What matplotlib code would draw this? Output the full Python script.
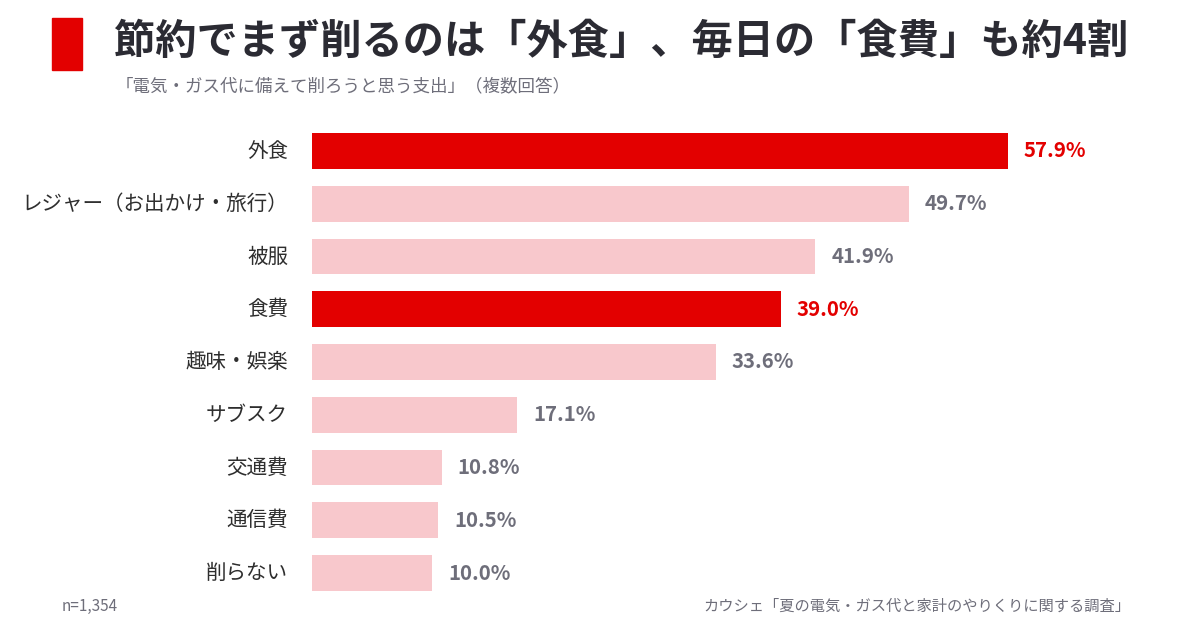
import matplotlib
matplotlib.use("Agg")
import matplotlib.pyplot as plt
from matplotlib.patches import Rectangle

plt.rcParams['font.family'] = ['Noto Sans CJK JP', 'DejaVu Sans']

# data
categories = ['外食', 'レジャー（お出かけ・旅行）', '被服', '食費', '趣味・娯楽',
              'サブスク', '交通費', '通信費', '削らない']
values = [57.9, 49.7, 41.9, 39.0, 33.6, 17.1, 10.8, 10.5, 10.0]
highlight = [True, False, False, True, False, False, False, False, False]

title = '節約でまず削るのは「外食」、毎日の「食費」も約4割'
subtitle = '「電気・ガス代に備えて削ろうと思う支出」（複数回答）'
note_left = 'n=1,354'
note_right = 'カウシェ「夏の電気・ガス代と家計のやりくりに関する調査」'

RED = '#e30000'
PINK = '#f8c8cc'
GREY = '#6e6e7a'
DARK = '#2e2e2e'

W, H = 1200, 630
fig = plt.figure(figsize=(W / 100, H / 100), dpi=100)

# axes placed so bars start at x=312px, 外食 center at y=151px
ax = fig.add_axes([312 / W, 1 - 599.4 / H, 841 / W, 474.8 / H])
ypos = list(range(len(categories)))
colors = [RED if h else PINK for h in highlight]
ax.barh(ypos, values, height=0.68, color=colors)
ax.set_xlim(0, 70)
ax.set_ylim(len(categories) - 0.5, -0.5)
ax.axis('off')

for y, v, h in zip(ypos, values, highlight):
    ax.annotate(f'{v:.1f}%', (v, y), xytext=(16, 0), textcoords='offset pixels',
                ha='left', va='center', fontsize=14.7, fontweight='bold',
                color=RED if h else GREY)
    ax.annotate(categories[y], (0, y), xytext=(-24, 0), textcoords='offset pixels',
                ha='right', va='center', fontsize=14.8, color=DARK)

# title block
fig.patches.append(Rectangle((52 / W, 1 - 70 / H), 30 / W, 52 / H,
                             transform=fig.transFigure, color=RED))
fig.text(114 / W, 1 - 42 / H, title, fontsize=29.7, fontweight='bold',
         color='#2b2b33', ha='left', va='center')
fig.text(116 / W, 1 - 86 / H, subtitle, fontsize=12.6, color=GREY,
         ha='left', va='center')

fig.text(62 / W, 1 - 606 / H, note_left, fontsize=11, color=GREY,
         ha='left', va='center')
fig.text(1130 / W, 1 - 606 / H, note_right, fontsize=11, color=GREY,
         ha='right', va='center')

fig.savefig('out.png', dpi=100)
